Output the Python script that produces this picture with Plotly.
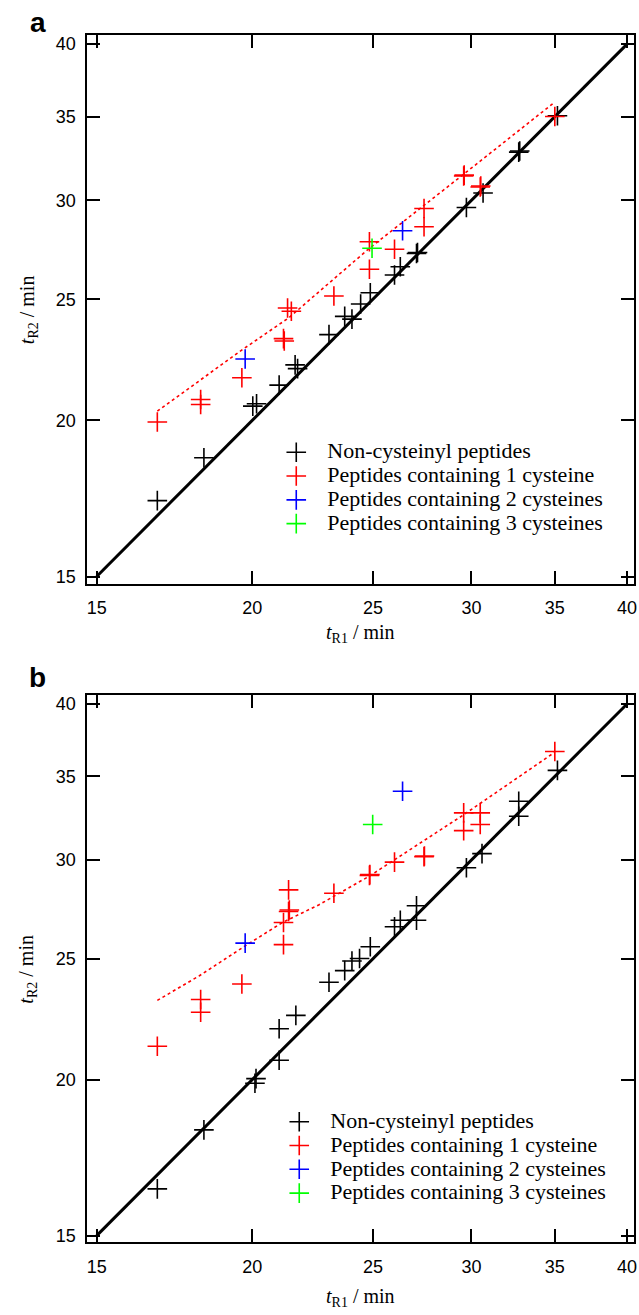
import plotly.graph_objects as go

# ---------------- data ----------------
ticks = [15, 20, 25, 30, 35, 40]
tick_labels = ["15", "20", "25", "30", "35", "40"]
diag = [15, 40]

# Panel a
a_non_x = [16.78, 18.29, 20.02, 20.16, 21.02, 21.65, 21.75, 23.05, 23.73, 24.05, 24.44, 24.88,
           26.02, 26.30, 27.10, 27.15, 29.72, 30.65, 32.74, 32.80, 35.17]
a_non_y = [17.25, 18.67, 20.53, 20.62, 21.34, 22.15, 22.00, 23.42, 24.22, 24.10, 24.78, 25.30,
           26.14, 26.54, 27.20, 27.25, 29.60, 30.40, 32.78, 32.85, 35.05]
a_c1_x = [16.78, 18.18, 18.18, 19.62, 21.19, 21.22, 21.35, 21.50, 23.26, 24.84, 24.84, 26.02,
          27.48, 27.48, 29.57, 29.60, 30.49, 30.52, 35.00]
a_c1_y = [19.94, 20.78, 20.59, 21.63, 23.25, 23.15, 24.60, 24.45, 25.15, 27.79, 26.42, 27.41,
          29.55, 28.57, 31.37, 31.42, 30.74, 30.80, 35.00]
a_c2_x = [19.74, 26.41]
a_c2_y = [22.39, 28.36]
a_c3_x = [24.96]
a_c3_y = [27.46]
a_fit_x = [16.78, 19.55, 21.40, 24.84, 29.60, 35.00]
a_fit_y = [20.34, 22.71, 24.16, 27.46, 31.50, 35.95]

# Panel b
b_non_x = [16.78, 18.29, 20.10, 20.14, 21.02, 21.02, 21.68, 23.05, 23.73, 24.05, 24.39, 24.88,
           26.02, 26.30, 27.10, 27.10, 29.72, 30.59, 32.74, 32.74, 35.17]
b_non_y = [16.35, 18.23, 19.87, 20.04, 20.73, 21.97, 22.52, 23.94, 24.46, 24.90, 25.01, 25.56,
           26.52, 26.84, 26.84, 27.57, 29.57, 30.35, 32.52, 33.43, 35.39]
b_c1_x = [16.78, 18.18, 18.18, 19.62, 21.19, 21.19, 21.39, 21.39, 21.42, 23.26, 24.84, 24.86,
          26.02, 27.48, 27.50, 29.57, 29.57, 30.49, 30.49, 35.00]
b_c1_y = [21.27, 23.19, 22.65, 23.86, 26.73, 25.66, 28.39, 27.28, 27.35, 28.21, 29.16, 29.20,
          29.88, 30.18, 30.22, 32.72, 31.67, 32.72, 32.03, 36.65]
b_c2_x = [19.74, 26.41]
b_c2_y = [25.73, 34.05]
b_c3_x = [24.99]
b_c3_y = [32.03]
b_fit_x = [16.78, 18.14, 19.74, 21.15, 22.63, 24.84, 29.57, 35.00]
b_fit_y = [23.15, 24.23, 25.60, 26.73, 27.62, 29.12, 32.61, 36.60]

series_names = ["Non-cysteinyl peptides", "Peptides containing 1 cysteine",
                "Peptides containing 2 cysteines", "Peptides containing 3 cysteines"]
series_colors = ["#000000", "#ff0000", "#0000ff", "#00ff00"]

# ---------------- figure ----------------
W, H = 639, 1315
fig = go.Figure()

SERIF = "Liberation Serif, Times New Roman, serif"
SANS = "Liberation Sans, Arial, sans-serif"


def leg_name(s):
    return '<span style="font-size:22px">\u00a0\u00a0' + s + "</span>"


def add_panel(xa, ya, legend, non, c1, c2, c3, fit):
    # diagonal
    fig.add_trace(go.Scatter(x=diag, y=diag, mode="lines", xaxis=xa, yaxis=ya,
                             line=dict(color="black", width=3), showlegend=False,
                             hoverinfo="skip"))
    # dotted fit line
    fig.add_trace(go.Scatter(x=fit[0], y=fit[1], mode="lines", xaxis=xa, yaxis=ya,
                             line=dict(color="#ff0000", width=1.6, dash="dot"),
                             showlegend=False, hoverinfo="skip"))
    for (xs, ys), name, col in zip([non, c1, c2, c3], series_names, series_colors):
        fig.add_trace(go.Scatter(
            x=xs, y=ys, mode="markers", xaxis=xa, yaxis=ya, legend=legend,
            name=leg_name(name),
            marker=dict(symbol="cross-thin", size=14, color=col,
                        line=dict(color=col, width=1.6))))


add_panel("x", "y", "legend", (a_non_x, a_non_y), (a_c1_x, a_c1_y), (a_c2_x, a_c2_y),
          (a_c3_x, a_c3_y), (a_fit_x, a_fit_y))
add_panel("x2", "y2", "legend2", (b_non_x, b_non_y), (b_c1_x, b_c1_y), (b_c2_x, b_c2_y),
          (b_c3_x, b_c3_y), (b_fit_x, b_fit_y))

axis_common = dict(type="log", tickvals=ticks, ticktext=tick_labels, ticks="inside",
                   ticklen=13, tickwidth=2, tickcolor="black", showline=True,
                   linewidth=2, linecolor="black", mirror="ticks", showgrid=False,
                   zeroline=False, ticklabeloverflow="allow",
                   tickfont=dict(family=SANS, size=18, color="black"))

xdom = [87 / W, 637 / W]
ya_dom = [1 - 585 / H, 1 - 34 / H]
yb_dom = [1 - 1246 / H, 1 - 697 / H]
xrange = [1.16867, 1.60767]

fig.update_layout(
    width=W, height=H,
    margin=dict(l=0, r=0, t=0, b=0),
    paper_bgcolor="white", plot_bgcolor="white",
    xaxis=dict(domain=xdom, anchor="y", range=xrange, ticklabelstandoff=7, **axis_common),
    yaxis=dict(domain=ya_dom, anchor="x", range=[1.17027, 1.60943], ticklabelstandoff=6,
               **axis_common),
    xaxis2=dict(domain=xdom, anchor="y2", range=xrange, ticklabelstandoff=7, **axis_common),
    yaxis2=dict(domain=yb_dom, anchor="x2", range=[1.17074, 1.60903], ticklabelstandoff=6,
                **axis_common),
    legend=dict(x=277 / W, y=1 - 436 / H, xanchor="left", yanchor="top",
                bgcolor="rgba(0,0,0,0)", borderwidth=0,
                font=dict(family=SERIF, size=16, color="black")),
    legend2=dict(x=280 / W, y=1 - 1108 / H, xanchor="left", yanchor="top",
                 bgcolor="rgba(0,0,0,0)", borderwidth=0,
                 font=dict(family=SERIF, size=16, color="black")),
    showlegend=True,
)

xt = "<i>t</i><sub>R1</sub> / min"
yt = "<i>t</i><sub>R2</sub> / min"
ann = [
    dict(text="<b>a</b>", x=37 / W, y=1 - 22 / H, font=dict(family=SANS, size=28)),
    dict(text="<b>b</b>", x=37 / W, y=1 - 679 / H, font=dict(family=SANS, size=28)),
    dict(text=xt, x=362 / W, y=1 - 635 / H, font=dict(family=SERIF, size=20)),
    dict(text=xt, x=362 / W, y=1 - 1301 / H, font=dict(family=SERIF, size=20)),
    dict(text=yt, x=27 / W, y=1 - 309.5 / H, textangle=-90, font=dict(family=SERIF, size=20)),
    dict(text=yt, x=27 / W, y=1 - 971.5 / H, textangle=-90, font=dict(family=SERIF, size=20)),
]
for a in ann:
    fig.add_annotation(xref="paper", yref="paper", showarrow=False,
                       xanchor="center", yanchor="middle", **a)
    fig.layout.annotations[-1].font.color = "black"

fig.write_html("out.html", config={"displayModeBar": False},
               post_script="document.body.style.margin='0px';"
                           "document.body.style.overflow='hidden';")
